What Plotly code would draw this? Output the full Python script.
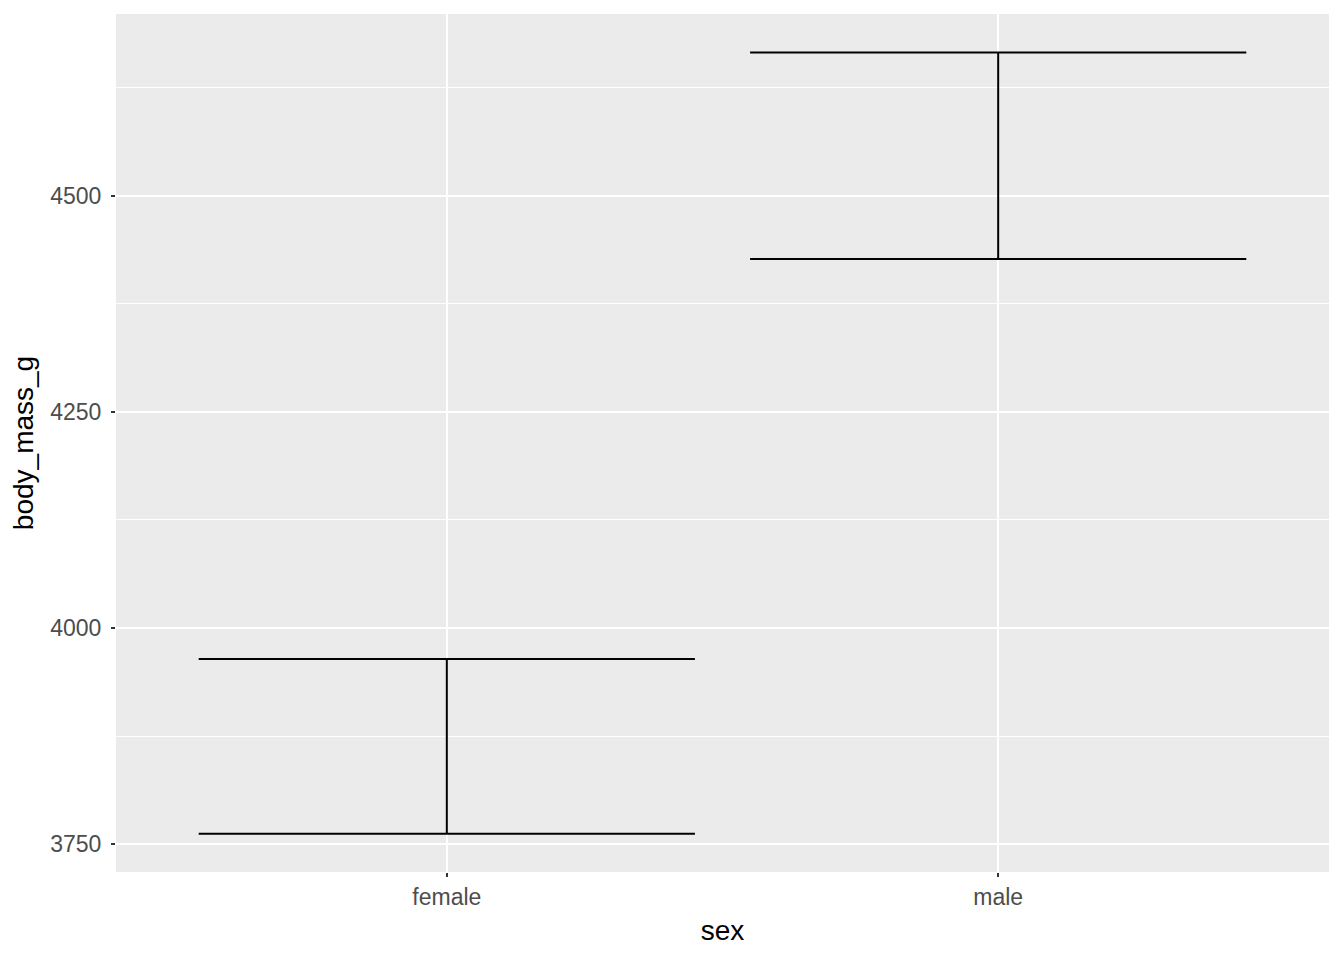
import plotly.graph_objects as go

# Data (mean_cl_normal summary of body_mass_g by sex)
categories = ["female", "male"]
ci_lower = [3762.0, 4427.0]
ci_upper = [3964.0, 4666.0]
bar_width = 0.9  # in category units

xs, ys = [], []
for i, (lo, hi) in enumerate(zip(ci_lower, ci_upper), start=1):
    h = bar_width / 2
    xs += [i - h, i + h, None, i, i, None, i - h, i + h, None]
    ys += [hi, hi, None, hi, lo, None, lo, lo, None]

fig = go.Figure()
fig.add_trace(go.Scatter(
    x=xs, y=ys, mode="lines",
    line=dict(color="black", width=2),
    showlegend=False, hoverinfo="skip",
))

font_family = "Liberation Sans, Arial, sans-serif"
fig.update_layout(
    width=1336, height=952,
    margin=dict(l=108, r=15, t=6, b=88),
    paper_bgcolor="white",
    plot_bgcolor="#EBEBEB",
    font=dict(family=font_family, color="#4D4D4D", size=23),
    showlegend=False,
)
fig.update_xaxes(
    range=[0.4, 2.6],
    tickmode="array", tickvals=[1, 2], ticktext=categories,
    showgrid=True, gridcolor="white", gridwidth=2,
    zeroline=False, showline=False,
    ticks="outside", ticklen=4, tickwidth=2, tickcolor="#333333",
    tickfont=dict(size=23, color="#4D4D4D"),
    title=dict(text="sex", font=dict(size=28, color="black"), standoff=11),
)
fig.update_yaxes(
    range=[3717.6, 4710.6],
    tickmode="array", tickvals=[3750, 4000, 4250, 4500],
    showgrid=True, gridcolor="white", gridwidth=2,
    minor=dict(tickmode="array", tickvals=[3875, 4125, 4375, 4625],
               showgrid=True, gridcolor="white", gridwidth=1, ticks=""),
    zeroline=False, showline=False,
    ticks="outside", ticklen=4, tickwidth=2, tickcolor="#333333",
    ticklabelstandoff=5,
    tickfont=dict(size=23, color="#4D4D4D"),
    title=dict(text="body_mass_g", font=dict(size=28, color="black"), standoff=10),
)

fig.write_html("out.html")
